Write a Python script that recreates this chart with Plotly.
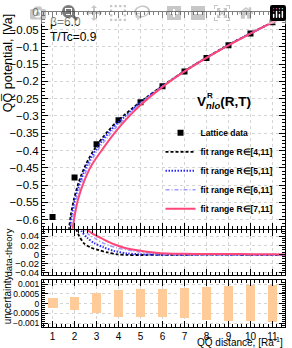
import plotly.graph_objects as go

# ---------------- data ----------------
R = [1, 2, 3, 4, 5, 6, 7, 8, 9, 10, 11]
V_lattice = [-0.592, -0.478, -0.382, -0.312, -0.260, -0.214, -0.171, -0.132, -0.095, -0.0615, -0.029]
uncertainty = [0.00026, 0.00034, 0.00052, 0.00068, 0.00073, 0.00073, 0.00077, 0.00085, 0.00089, 0.00093, 0.00096]

fit4_r = [1.72, 1.75, 1.83, 1.98, 2.2, 2.5, 2.96, 3.49, 4, 5, 6, 7, 8, 9, 10, 11, 11.6]
fit4_v = [-0.645, -0.625, -0.587, -0.539, -0.490, -0.442, -0.390, -0.346, -0.312, -0.259, -0.213, -0.170, -0.131, -0.094, -0.061, -0.028, -0.009]
fit5_r = [1.77, 1.80, 1.88, 2.03, 2.26, 2.57, 3.03, 3.58, 4, 5, 6, 7, 8, 9, 10, 11, 11.6]
fit5_v = [-0.645, -0.625, -0.587, -0.539, -0.490, -0.442, -0.392, -0.346, -0.318, -0.261, -0.2135, -0.1705, -0.131, -0.0945, -0.061, -0.0285, -0.0095]
fit6_r = [1.82, 1.85, 1.94, 2.09, 2.33, 2.66, 3.13, 3.71, 4, 5, 6, 7, 8, 9, 10, 11, 11.6]
fit6_v = [-0.645, -0.625, -0.587, -0.539, -0.490, -0.442, -0.392, -0.346, -0.326, -0.264, -0.2145, -0.171, -0.1315, -0.095, -0.0612, -0.029, -0.010]
fit7_r = [1.88, 1.92, 2.01, 2.17, 2.43, 2.78, 3.25, 3.86, 4.4, 5, 6, 7, 8, 9, 10, 11, 11.6]
fit7_v = [-0.645, -0.625, -0.587, -0.539, -0.490, -0.442, -0.398, -0.346, -0.306, -0.268, -0.2156, -0.171, -0.1315, -0.0953, -0.0613, -0.029, -0.0103]

res4_r = [2.03, 2.1, 2.2, 2.43, 2.73, 3.11, 3.49, 3.94, 4.39, 5, 6, 7, 8, 9, 10, 11, 11.6]
res4_v = [0.066, 0.052, 0.041, 0.024, 0.015, 0.009, 0.004, 0.0, -0.0013, -0.0015, -0.0012, -0.001, -0.0008, -0.0008, -0.001, -0.0012, -0.0014]
res5_r = [2.22, 2.3, 2.58, 2.88, 3.33, 3.79, 4.39, 5, 6, 7, 8, 9, 10, 11, 11.6]
res5_v = [0.064, 0.052, 0.036, 0.025, 0.015, 0.0075, 0.002, 0.0, -0.0008, -0.0008, -0.0006, -0.0007, -0.0009, -0.001, -0.0012]
res6_r = [2.36, 2.43, 2.65, 2.88, 3.33, 3.94, 4.69, 5.45, 6, 7, 8, 9, 10, 11, 11.6]
res6_v = [0.064, 0.054, 0.043, 0.036, 0.024, 0.014, 0.0072, 0.002, 0.0005, -0.0003, -0.0004, -0.0005, -0.0007, -0.0008, -0.001]
res7_r = [2.5, 2.58, 2.85, 3.19, 3.79, 4.39, 5, 5.6, 6.2, 7, 8, 9, 10, 11, 11.6]
res7_v = [0.064, 0.054, 0.044, 0.036, 0.022, 0.0127, 0.008, 0.004, 0.0017, 0.001, 0.0007, 0.0005, 0.0003, 0.0, -0.0003]

fit_labels = ["fit range R\u2208[4,11]", "fit range R\u2208[5,11]", "fit range R\u2208[6,11]", "fit range R\u2208[7,11]"]

# ---------------- styles ----------------
FONT = "Liberation Sans, Arial, Helvetica, sans-serif"
styles = [
    dict(color="#000000", dash="3px,2px", width=1.8),
    dict(color="#2a2aff", dash="1.5px,1.5px", width=2),
    dict(color="#9c9cff", dash="4px,2px,1px,2px", width=1.5),
    dict(color="#ff4678", dash="solid", width=2),
]

fig = go.Figure()

fig.add_trace(go.Scatter(
    x=R, y=V_lattice, mode="markers", name="Lattice data",
    marker=dict(symbol="square", size=6, color="black"),
    error_y=dict(type="data", array=uncertainty, thickness=1, width=0, color="black"),
    xaxis="x", yaxis="y"))

fits = [(fit4_r, fit4_v), (fit5_r, fit5_v), (fit6_r, fit6_v), (fit7_r, fit7_v)]
for (fr, fv), st, lab in zip(fits, styles, fit_labels):
    fig.add_trace(go.Scatter(x=fr, y=fv, mode="lines", name=lab,
                             line=dict(shape="spline", smoothing=0.8, **st),
                             xaxis="x", yaxis="y"))

ress = [(res4_r, res4_v), (res5_r, res5_v), (res6_r, res6_v), (res7_r, res7_v)]
for (rr, rv), st in zip(ress, styles):
    fig.add_trace(go.Scatter(x=rr, y=rv, mode="lines", showlegend=False,
                             line=dict(shape="spline", smoothing=0.8, **st),
                             xaxis="x2", yaxis="y2"))

fig.add_trace(go.Bar(x=R, y=[2 * u for u in uncertainty], base=[-u for u in uncertainty],
                     width=0.45, marker=dict(color="#ffcc99", line=dict(width=0)),
                     showlegend=False, xaxis="x3", yaxis="y3"))

# ---------------- axes ----------------
common = dict(showline=True, linecolor="black", linewidth=1, mirror="ticks",
              ticks="inside", ticklen=6, tickcolor="black", tickwidth=1,
              showgrid=True, gridcolor="#d4d4d4", griddash="dot", gridwidth=1,
              zeroline=False, tickfont=dict(family=FONT, size=10, color="black"))

xr = [0.52, 11.57]
fig.update_layout(
    xaxis=dict(common, range=xr, dtick=1, tick0=0, anchor="y", showticklabels=False,
               minor=dict(ticks="inside", ticklen=3, dtick=0.2, tickcolor="black", showgrid=False)),
    xaxis2=dict(common, range=xr, dtick=1, tick0=0, anchor="y2", showticklabels=False, matches="x",
                minor=dict(ticks="inside", ticklen=3, dtick=0.2, tickcolor="black", showgrid=False)),
    xaxis3=dict(common, range=xr, dtick=1, tick0=0, anchor="y3", matches="x",
                minor=dict(ticks="inside", ticklen=3, dtick=0.2, tickcolor="black", showgrid=False)),
    yaxis=dict(common, domain=[0.3123, 1.0], range=[-0.626, 0.001], dtick=0.05, tick0=0,
               tickfont=dict(family=FONT, size=11.5, color="black"),
               minor=dict(ticks="inside", ticklen=3, dtick=0.01, tickcolor="black", showgrid=False)),
    yaxis2=dict(common, domain=[0.164, 0.3091], range=[-0.046, 0.054], dtick=0.02, tick0=0,
                tickfont=dict(family=FONT, size=9.5, color="black"),
                minor=dict(ticks="inside", ticklen=3, dtick=0.005, tickcolor="black", showgrid=False)),
    yaxis3=dict(common, domain=[0.0, 0.148], range=[-0.0012, 0.0012], dtick=0.0005, tick0=0,
                tickformat=".4~f",
                tickfont=dict(family=FONT, size=8.5, color="black"),
                minor=dict(ticks="inside", ticklen=3, dtick=0.0001, tickcolor="black", showgrid=False)),
)

# ---------------- texts ----------------
ann = []
def px2x(px):
    return (px - 42) / 244.0
def py2y(py):
    return (327 - py) / 317.0

ann.append(dict(text="QQ\u0305 potential, [Va]", x=px2x(8), y=1.0, xanchor="center", yanchor="top",
                textangle=-90, font=dict(family=FONT, size=12.5, color="black")))
ann.append(dict(text="data-theory", x=px2x(8), y=py2y(252), xanchor="center", yanchor="middle",
                textangle=-90, font=dict(family=FONT, size=9.5, color="black")))
ann.append(dict(text="uncertainty", x=px2x(7), y=py2y(300), xanchor="center", yanchor="middle",
                textangle=-90, font=dict(family=FONT, size=10, color="black")))
ann.append(dict(text="QQ\u0305 distance, [Ra<sup>-1</sup>]", x=1.0, y=py2y(342), xanchor="right", yanchor="middle",
                font=dict(family=FONT, size=10, color="black")))
ann.append(dict(text="\u03b2=6.0", x=px2x(48), y=py2y(20.5), xanchor="left", yanchor="middle",
                font=dict(family=FONT, size=12, color="black")))
ann.append(dict(text="T/Tc=0.9", x=px2x(48), y=py2y(35), xanchor="left", yanchor="middle",
                font=dict(family=FONT, size=12, color="black")))
ann.append(dict(text="<b>V<sub><i>nlo</i></sub>(R,T)</b>", x=px2x(196), y=py2y(101), xanchor="left", yanchor="middle",
                font=dict(family=FONT, size=13.5, color="black")))
ann.append(dict(text="<b>R</b>", x=px2x(205.5), y=py2y(94), xanchor="left", yanchor="middle",
                font=dict(family=FONT, size=8, color="black")))
for a in ann:
    a.update(xref="paper", yref="paper", showarrow=False)

fig.update_layout(
    annotations=ann,
    width=292, height=348,
    margin=dict(l=42, r=6, t=10, b=21),
    paper_bgcolor="white", plot_bgcolor="white",
    bargap=0,
    showlegend=True,
    legend=dict(x=px2x(161), y=py2y(117), xanchor="left", yanchor="top",
                bgcolor="rgba(0,0,0,0)", borderwidth=0,
                font=dict(family=FONT, size=8.5, color="black", weight="bold"),
                itemwidth=30, tracegroupgap=0),
)

fig.write_html("out.html", post_script="document.body.style.margin='0px';document.body.style.padding='0px';")
